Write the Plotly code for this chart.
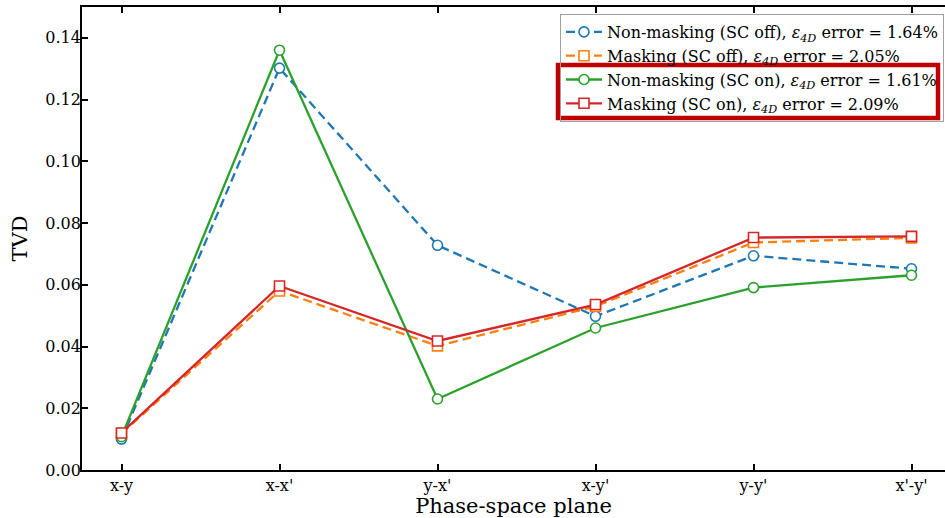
import plotly.graph_objects as go

# Phase-space planes on the x axis
planes = ["x-y", "x-x'", "y-x'", "x-y'", "y-y'", "x'-y'"]

# Total variation distance per plane for each reconstruction
nonmask_sc_off = [0.0100, 0.1302, 0.0728, 0.0498, 0.0694, 0.0652]
mask_sc_off = [0.0118, 0.0580, 0.0402, 0.0530, 0.0737, 0.0752]
nonmask_sc_on = [0.0108, 0.1360, 0.0230, 0.0460, 0.0591, 0.0631]
mask_sc_on = [0.0120, 0.0596, 0.0418, 0.0536, 0.0753, 0.0757]

# Legend labels (4D emittance error)
labels = [
    "Non-masking (SC off), <i>ε</i><sub><i>4D</i></sub> error = 1.64%",
    "Masking (SC off), <i>ε</i><sub><i>4D</i></sub> error = 2.05%",
    "Non-masking (SC on), <i>ε</i><sub><i>4D</i></sub> error = 1.61%",
    "Masking (SC on), <i>ε</i><sub><i>4D</i></sub> error = 2.09%",
]

W, H = 945, 518
L, R, T, B = 82, 0, 7, 48
FONT = "DejaVu Serif"

series = [
    (nonmask_sc_off, "#1f77b4", "circle", "9px,5px", labels[0]),
    (mask_sc_off, "#ff7f0e", "square", "9px,5px", labels[1]),
    (nonmask_sc_on, "#2ca02c", "circle", "solid", labels[2]),
    (mask_sc_on, "#d62728", "square", "solid", labels[3]),
]

fig = go.Figure()
for vals, color, sym, dash, name in series:
    fig.add_trace(go.Scatter(
        x=planes, y=vals, mode="lines+markers", name=name,
        line=dict(color=color, width=2.3, dash=dash),
        marker=dict(symbol=sym, size=10,
                    color="white", line=dict(color=color, width=1.6)),
    ))

# Plot-area pixel helpers for the highlight box around the SC-on entries
pw, ph = W - L - R, H - T - B
def px(xp):
    return (xp - L) / pw
def py(yp):
    return (H - B - yp) / ph

fig.add_shape(type="rect", xref="paper", yref="paper", layer="above",
              x0=px(558), x1=px(938), y0=py(118), y1=py(65),
              line=dict(color="#c00000", width=4.5), fillcolor="rgba(0,0,0,0)")

fig.update_layout(
    width=W, height=H,
    margin=dict(l=L, r=R, t=T, b=B, pad=0),
    paper_bgcolor="white", plot_bgcolor="white",
    font=dict(family=FONT, size=16, color="black"),
    showlegend=True,
    legend=dict(
        x=px(944), xanchor="right", y=py(14), yanchor="top",
        bgcolor="rgba(255,255,255,0)", bordercolor="#a0a0a0", borderwidth=1,
        font=dict(family=FONT, size=16, color="black"),
        tracegroupgap=0, itemwidth=36,
    ),
    xaxis=dict(
        type="category", range=[-0.25, 5.212],
        showline=True, linecolor="black", linewidth=1.8, mirror="ticks",
        ticks="inside", ticklen=6, tickwidth=1.5, tickcolor="black",
        showgrid=False, zeroline=False,
        tickfont=dict(family=FONT, size=16),
        title=dict(text="Phase-space plane", font=dict(family=FONT, size=21), standoff=2),
    ),
    yaxis=dict(
        range=[0, 0.15], tickvals=[0, 0.02, 0.04, 0.06, 0.08, 0.10, 0.12, 0.14],
        tickformat=".2f",
        showline=True, linecolor="black", linewidth=1.8, mirror=False,
        ticks="inside", ticklen=6, tickwidth=1.5, tickcolor="black",
        showgrid=False, zeroline=False, ticklabelstandoff=-4,
        tickfont=dict(family=FONT, size=16),
        title=dict(text="TVD", font=dict(family=FONT, size=21), standoff=12),
    ),
)

fig.write_html("out.html")
